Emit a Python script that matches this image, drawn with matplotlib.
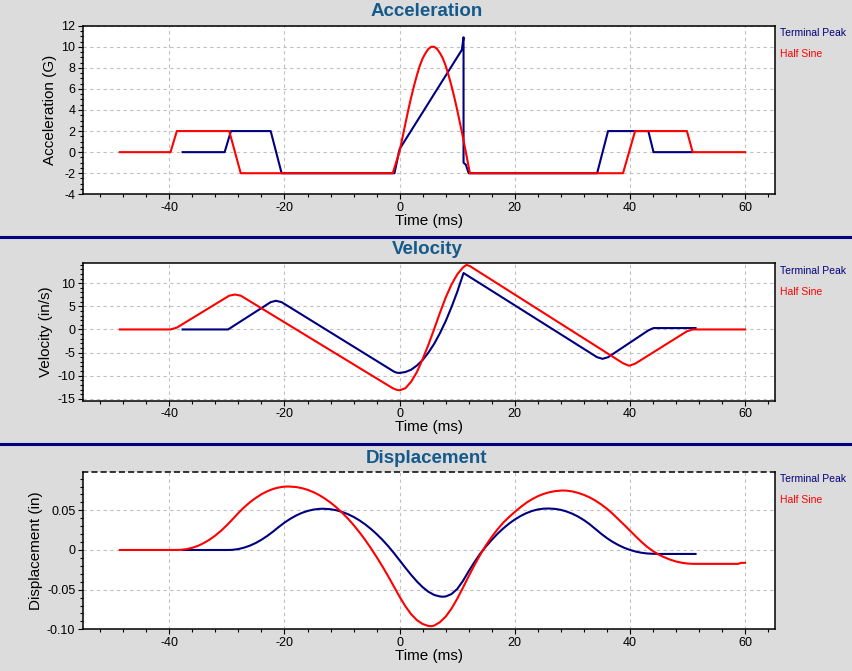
import matplotlib
matplotlib.use("Agg")
import matplotlib.pyplot as plt
from matplotlib.ticker import MultipleLocator
from matplotlib.lines import Line2D

plt.rcParams['font.family'] = ['Liberation Sans', 'DejaVu Sans']
plt.rcParams['axes.unicode_minus'] = False

# Series names
series_names = ["Terminal Peak", "Half Sine"]

# Acceleration (G) - Terminal Peak
acc_t_tp = [-37.7, -30.4, -29.3, -22.4, -20.5, -0.9, 0.0, 10.8, 11.1, 11.1, 11.5, 12.0,
            34.3, 36.2, 43.2, 44.1, 50.8]
acc_tp = [0, 0, 2, 2, -2, -2, 0.3, 9.7, 10.9, -1.0, -1.2, -2,
          -2, 2, 2, 0, 0]

# Acceleration (G) - Half Sine
acc_t_hs = [-48.6, -39.8, -38.7, -29.6, -27.6, -1.2, 0.0, 0.5, 1, 1.5, 2, 2.5, 3, 3.5, 4,
            4.5, 5, 5.5, 6, 6.5, 7, 7.5, 8, 8.5, 9, 9.5, 10, 10.5, 11, 11.5, 12.2,
            38.8, 40.9, 49.9, 50.9, 60.0]
acc_hs = [0, 0, 2, 2, -2, -2, 0.1, 1.4, 2.7, 4.0, 5.2, 6.3, 7.3, 8.2, 8.9,
          9.4, 9.8, 10.0, 10.0, 9.8, 9.4, 8.9, 8.2, 7.3, 6.3, 5.2, 4.0, 2.7, 1.4, 0.0, -2,
          -2, 2, 2, 0, 0]

# Velocity (in/s) - Terminal Peak
vel_t_tp = [-37.7, -29.8, -22.4, -21.5, -20.5, -1.0, -0.5, 0, 1, 2, 3, 4, 5, 6, 7, 8, 9,
            10, 11.1, 34.3, 35.25, 36.2, 43.2, 44.1, 51.4]
vel_tp = [0, 0, 5.9, 6.2, 5.9, -9.1, -9.35, -9.4, -9.2, -8.7, -7.8, -6.6, -5.0, -3.1, -0.8,
          1.8, 4.8, 8.1, 12.2, -6.0, -6.35, -6.0, -0.2, 0.3, 0.3]

# Velocity (in/s) - Half Sine
vel_t_hs = [-48.6, -39.8, -38.7, -29.6, -28.6, -27.6, -1.2, -0.5, 0, 1, 2, 3, 4, 5, 6, 7,
            8, 9, 10, 11, 11.6, 12.2, 38.8, 39.85, 40.9, 49.9, 50.9, 60.0]
vel_hs = [0, 0, 0.4, 7.3, 7.55, 7.3, -12.7, -13.05, -13.15, -12.7, -11.3, -9.2, -6.4, -3.3,
          0.1, 3.6, 6.9, 9.7, 11.9, 13.4, 13.95, 13.7, -7.3, -7.85, -7.4, -0.4, 0, 0]

# Displacement (in) - Terminal Peak
disp_t_tp = [-37.7, -29.8, -29, -28, -27, -26, -25, -24, -23, -22, -21, -20, -19, -18, -17,
             -16, -15, -14, -13.3, -12, -11, -10, -9, -8, -7, -6, -5, -4, -3, -2, -1, 0,
             1, 2, 3, 4, 5, 6, 7, 7.5, 8, 9, 10, 11, 12, 13, 14, 15, 16, 17, 18, 19, 20,
             21, 22, 23, 24, 25, 25.9, 27, 28, 29, 30, 31, 32, 33, 34, 35, 36, 37, 38, 39,
             40, 41, 42, 43, 44, 45, 51.4]
disp_tp = [0, 0, 0.0002, 0.0012, 0.0030, 0.0055, 0.0088, 0.0129, 0.0177, 0.0231, 0.0290,
           0.0345, 0.0393, 0.0434, 0.0467, 0.0492, 0.0509, 0.0518, 0.0520, 0.0514, 0.0501,
           0.0480, 0.0452, 0.0417, 0.0374, 0.0324, 0.0266, 0.0201, 0.0129, 0.0049, -0.0038,
           -0.0131, -0.0224, -0.0314, -0.0397, -0.0469, -0.0527, -0.0567, -0.0586, -0.0589,
           -0.0586, -0.0556, -0.0492, -0.0390, -0.0267, -0.0152, -0.0045, 0.0045, 0.0128,
           0.0204, 0.0272, 0.0332, 0.0384, 0.0428, 0.0464, 0.0492, 0.0511, 0.0521, 0.0523,
           0.0518, 0.0506, 0.0485, 0.0457, 0.0421, 0.0377, 0.0325, 0.0265, 0.0205, 0.0150,
           0.0102, 0.0062, 0.0028, 0.0001, -0.0020, -0.0035, -0.0044, -0.0048, -0.0050,
           -0.0050]

# Displacement (in) - Half Sine
disp_t_hs = [-48.6, -39, -38, -37, -36, -35, -34, -33, -32, -31, -30, -29, -28, -27, -26,
             -25, -24, -23, -22, -21, -20, -19.3, -18, -17, -16, -15, -14, -13, -12, -11,
             -10, -9, -8, -7, -6, -5, -4, -3, -2, -1, 0, 1, 2, 3, 4, 5, 5.5, 6, 7, 8, 9,
             10, 11, 12, 13, 14, 15, 16, 17, 18, 19, 20, 21, 22, 23, 24, 25, 26, 27, 28.2,
             29, 30, 31, 32, 33, 34, 35, 36, 37, 38, 39, 40, 41, 42, 43, 44, 45, 46, 47,
             48, 49, 50, 51, 52, 58.8, 59.3, 60]
disp_hs = [0, 0, 0.0002, 0.0011, 0.0028, 0.0053, 0.0088, 0.0131, 0.0183, 0.0244, 0.0313,
           0.0389, 0.0467, 0.0539, 0.0602, 0.0656, 0.0703, 0.0740, 0.0769, 0.0788, 0.0799,
           0.0800, 0.0794, 0.0780, 0.0759, 0.0730, 0.0693, 0.0649, 0.0597, 0.0538, 0.0471,
           0.0397, 0.0315, 0.0225, 0.0128, 0.0023, -0.0089, -0.0206, -0.0330, -0.0460,
           -0.0590, -0.0710, -0.0810, -0.0885, -0.0933, -0.0958, -0.0961, -0.0953, -0.0910,
           -0.0840, -0.0740, -0.0615, -0.0475, -0.0330, -0.0190, -0.0060, 0.0060, 0.0165,
           0.0260, 0.0345, 0.0415, 0.0480, 0.0540, 0.0595, 0.0640, 0.0678, 0.0707, 0.0728,
           0.0742, 0.0750, 0.0748, 0.0738, 0.0720, 0.0695, 0.0663, 0.0623, 0.0575, 0.0520,
           0.0457, 0.0387, 0.0317, 0.0245, 0.0172, 0.0102, 0.0039, -0.0014, -0.0058,
           -0.0093, -0.0122, -0.0145, -0.0161, -0.0171, -0.0175, -0.0175, -0.0175, -0.0162,
           -0.0162]

# Colours
bg = '#dcdcdc'
navy = '#000080'
red = '#ff0000'
title_col = '#155a8a'

W, H = 852, 671
fig = plt.figure(figsize=(W / 100, H / 100), dpi=100, facecolor=bg)


def px_axes(left, top, right, bottom):
    # axes from pixel coordinates
    return fig.add_axes([left / W, 1 - bottom / H, (right - left) / W, (bottom - top) / H])


def style(ax, ylabel, ymin, ymax, ymajor, yminor):
    ax.set_facecolor('white')
    ax.set_xlim(-55, 65.2)
    ax.set_ylim(ymin, ymax)
    ax.xaxis.set_major_locator(MultipleLocator(20))
    ax.xaxis.set_minor_locator(MultipleLocator(4))
    ax.yaxis.set_major_locator(MultipleLocator(ymajor))
    ax.yaxis.set_minor_locator(MultipleLocator(yminor))
    ax.grid(True, which='major', color='#c0c0c0', linestyle=(0, (3, 3)), linewidth=0.8)
    ax.set_axisbelow(True)
    ax.tick_params(which='both', direction='out', top=False, right=False,
                   labelsize=9, pad=2, width=0.8)
    ax.tick_params(which='major', length=3.5)
    ax.tick_params(which='minor', length=2)
    for s in ax.spines.values():
        s.set_linewidth(1.1)
        s.set_color('black')
    ax.set_xlabel("Time (ms)", fontsize=11, labelpad=0)
    ax.set_ylabel(ylabel, fontsize=11, labelpad=3)


# Acceleration
ax1 = px_axes(83, 25.7, 775, 194.3)
ax1.plot(acc_t_tp, acc_tp, color=navy, lw=1.5)
ax1.plot(acc_t_hs, acc_hs, color=red, lw=1.5)
style(ax1, "Acceleration (G)", -4, 12, 2, 0.5)

# Velocity
ax2 = px_axes(83, 263.3, 775, 400.7)
ax2.plot(vel_t_tp, vel_tp, color=navy, lw=1.5)
ax2.plot(vel_t_hs, vel_hs, color=red, lw=1.5)
style(ax2, "Velocity (in/s)", -15.4, 14.3, 5, 1)

# Displacement
ax3 = px_axes(83, 471.7, 775, 629.3)
ax3.plot(disp_t_tp, disp_tp, color=navy, lw=1.5)
ax3.plot(disp_t_hs, disp_hs, color=red, lw=1.5)
style(ax3, "Displacement (in)", -0.1, 0.0987, 0.05, 0.01)
ax3.set_yticks([-0.10, -0.05, 0, 0.05], labels=["-0.10", "-0.05", "0", "0.05"])
ax3.spines['top'].set_linestyle((0, (3, 3)))

# Titles and legend texts
titles = ["Acceleration", "Velocity", "Displacement"]
title_y = [11.7, 250, 458.3]
legend_y = [(33.3, 54), (271, 292.3), (479.3, 500)]
for t, ty, (ly1, ly2) in zip(titles, title_y, legend_y):
    fig.text(427 / W, 1 - ty / H, t, ha='center', va='center', fontsize=13.5,
             fontweight='bold', color=title_col)
    fig.text(780 / W, 1 - ly1 / H, series_names[0], color=navy, fontsize=7.5, va='center')
    fig.text(780 / W, 1 - ly2 / H, series_names[1], color=red, fontsize=7.5, va='center')

# Separator lines between the panels
for y in [236.7, 444]:
    fig.add_artist(Line2D([0, 1], [1 - y / H, 1 - y / H], transform=fig.transFigure,
                          color=navy, lw=2.2))

fig.savefig("out.png", dpi=100, facecolor=bg)
